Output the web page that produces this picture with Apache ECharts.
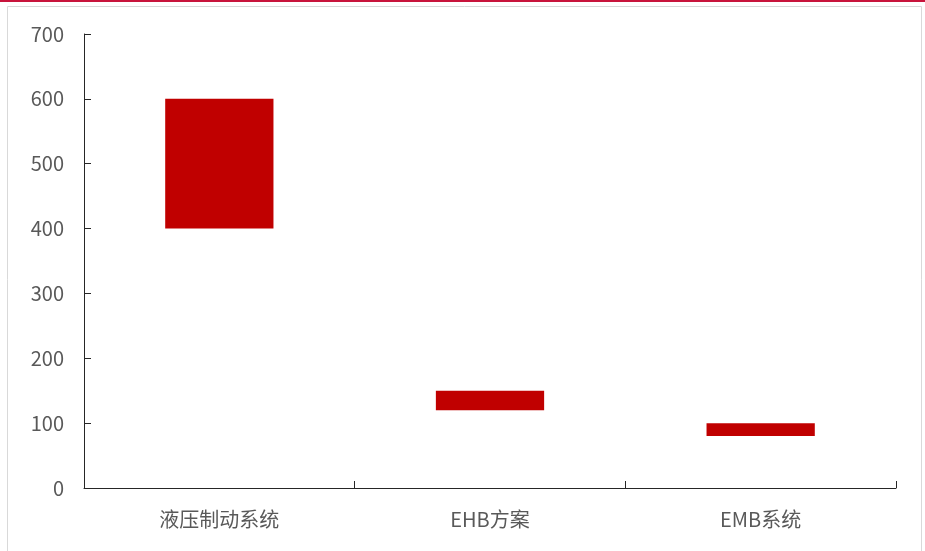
<!DOCTYPE html>
<html><head><meta charset="utf-8">
<script src="https://cdn.jsdelivr.net/npm/echarts@6/dist/echarts.min.js"></script>
<style>html,body{margin:0;padding:0;background:#fff}#c{width:925px;height:551px}</style>
</head><body><div id="c"></div>
<script>
const categories = ['液压制动系统', 'EHB方案', 'EMB系统'];
const lowValues = [400, 120, 80];
const highValues = [600, 150, 100];
const yTicks = [0, 100, 200, 300, 400, 500, 600, 700];

const base = lowValues;
const span = highValues.map((h, i) => h - lowValues[i]);
const font = '"Microsoft YaHei", "Noto Sans CJK SC", sans-serif';
const chart = echarts.init(document.getElementById('c'));
chart.setOption({
  animation: false,
  grid: { left: 84, right: 29, top: 34, bottom: 63 },
  graphic: [
    { type: 'rect', shape: { x: 7.5, y: 6.5, width: 914, height: 560 }, style: { fill: 'none', stroke: '#d9d9d9', lineWidth: 1 }, silent: true },
    { type: 'rect', shape: { x: 0, y: 0, width: 925, height: 2 }, style: { fill: '#c8143c' }, silent: true }
  ],
  xAxis: {
    type: 'category', data: categories,
    axisLine: { lineStyle: { color: '#262626', width: 1 } },
    axisTick: { show: true, inside: true, length: 7, lineStyle: { color: '#262626' } },
    axisLabel: { color: '#595959', fontSize: 20, fontFamily: font, margin: 21 },
    splitLine: { show: false }
  },
  yAxis: {
    type: 'value', min: yTicks[0], max: yTicks[yTicks.length - 1], interval: 100,
    axisLine: { show: true, lineStyle: { color: '#262626', width: 1 } },
    axisTick: { show: true, inside: true, length: 7, lineStyle: { color: '#262626' } },
    axisLabel: { color: '#595959', fontSize: 20, fontFamily: font, margin: 20 },
    splitLine: { show: false }
  },
  series: [
    { type: 'bar', stack: 's', data: base, itemStyle: { color: 'transparent' }, barWidth: '40%', silent: true },
    { type: 'bar', stack: 's', data: span, itemStyle: { color: '#c00000' }, barWidth: '40%' }
  ]
});
</script></body></html>
